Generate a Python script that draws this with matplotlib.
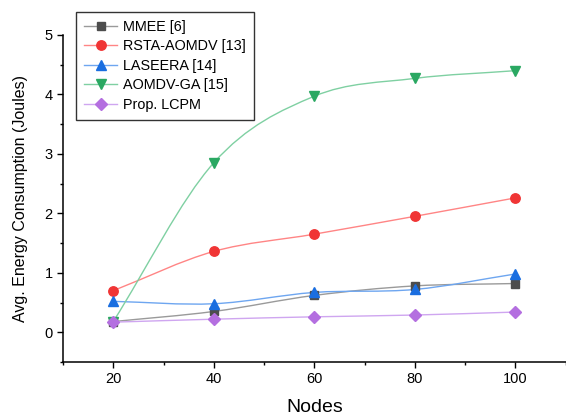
import numpy as np
import matplotlib
matplotlib.use('Agg')
import matplotlib.pyplot as plt
from matplotlib.path import Path
from matplotlib.patches import PathPatch
from matplotlib.lines import Line2D
from matplotlib.ticker import MultipleLocator

plt.rcParams['font.family'] = ['Liberation Sans', 'DejaVu Sans']

# ── Data ─────────────────────────────────────────────────────
nodes = [20, 40, 60, 80, 100]
mmee = [0.18, 0.35, 0.62, 0.78, 0.82]
rsta = [0.70, 1.36, 1.65, 1.95, 2.26]
laseera = [0.52, 0.48, 0.67, 0.72, 0.98]
aomdv_ga = [0.18, 2.85, 3.97, 4.27, 4.40]
lcpm = [0.17, 0.22, 0.26, 0.29, 0.34]
labels = ['MMEE [6]', 'RSTA-AOMDV [13]', 'LASEERA [14]', 'AOMDV-GA [15]', 'Prop. LCPM']

series = [mmee, rsta, laseera, aomdv_ga, lcpm]
markers = ['s', 'o', '^', 'v', 'D']
mcolors = ['#4d4d4d', '#f03535', '#1a6ee0', '#2aa862', '#b46fe0']
lcolors = ['#9a9a9a', '#ff8585', '#6ea6f0', '#7fd0a2', '#cfa6f0']
msizes = [5.8, 6.8, 7.0, 7.0, 6.0]


def spline_path(x, y):
    # smooth connection (Catmull-Rom as cubic Bezier segments)
    x = np.asarray(x, float); y = np.asarray(y, float)
    n = len(x)
    tx = np.zeros(n); ty = np.zeros(n)
    for i in range(n):
        a = max(i - 1, 0); b = min(i + 1, n - 1)
        tx[i] = (x[b] - x[a]) / (b - a)
        ty[i] = (y[b] - y[a]) / (b - a)
    verts = [(x[0], y[0])]
    codes = [Path.MOVETO]
    for i in range(n - 1):
        verts += [(x[i] + tx[i] / 3, y[i] + ty[i] / 3),
                  (x[i + 1] - tx[i + 1] / 3, y[i + 1] - ty[i + 1] / 3),
                  (x[i + 1], y[i + 1])]
        codes += [Path.CURVE4] * 3
    return Path(verts, codes)


fig = plt.figure(figsize=(5.66, 4.18), dpi=100)
ax = fig.add_axes([63 / 566, 56 / 418, 502.5 / 566, 327 / 418])

handles = []
for i, s in enumerate(series):
    ax.add_patch(PathPatch(spline_path(nodes, s), fill=False, edgecolor=lcolors[i],
                           linewidth=1.0, zorder=2 + i))
    ax.plot(nodes, s, ls='none', marker=markers[i], ms=msizes[i], color=mcolors[i],
            mec=mcolors[i], zorder=10 + i, clip_on=False)
    handles.append(Line2D([], [], color=lcolors[i], lw=1.0, marker=markers[i],
                          ms=msizes[i], mfc=mcolors[i], mec=mcolors[i]))

ax.set_xlim(10, 110)
ax.set_ylim(-0.5, 5)
ax.set_xticks(nodes)
ax.set_yticks([0, 1, 2, 3, 4, 5])
ax.xaxis.set_minor_locator(MultipleLocator(10))
ax.yaxis.set_minor_locator(MultipleLocator(0.5))
ax.spines['top'].set_visible(False)
ax.spines['right'].set_visible(False)
for sp in ['left', 'bottom']:
    ax.spines[sp].set_linewidth(1.1)
ax.tick_params(which='major', direction='out', length=4, width=1.0, labelsize=10.5)
ax.tick_params(which='minor', direction='out', length=2.5, width=1.0)
ax.set_xlabel('Nodes', fontsize=14, labelpad=9)
ax.set_ylabel('Avg. Energy Consumption (Joules)', fontsize=11.5, labelpad=12)

fig.legend(handles, labels, loc='upper left', bbox_to_anchor=(76 / 566, 1 - 12 / 418),
           fontsize=10.4, frameon=True, fancybox=False, edgecolor='#333333',
           framealpha=1, handlelength=2.3, borderpad=0.55, labelspacing=0.38,
           handletextpad=0.4, borderaxespad=0)

plt.savefig('out.png', dpi=100)
